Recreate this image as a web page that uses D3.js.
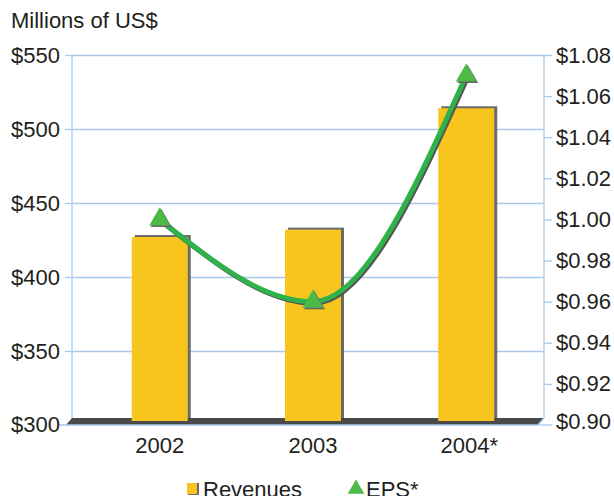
<!DOCTYPE html>
<html>
<head>
<meta charset="utf-8">
<script src="https://cdn.jsdelivr.net/npm/d3@7"></script>
<style>
  body { margin: 0; background: #fff; }
  text { font-family: "Liberation Sans", Arial, sans-serif; fill: #231f20; }
</style>
</head>
<body>
<svg id="chart"></svg>
<script>
var width = 614;
var height = 496;

var years = ["2002", "2003", "2004*"];
var revenues = [427, 432, 514];
var eps = [1.00, 0.96, 1.07];
var leftTicks = [300, 350, 400, 450, 500, 550];
var rightTicks = [0.90, 0.92, 0.94, 0.96, 0.98, 1.00, 1.02, 1.04, 1.06, 1.08];

var plot = { left: 72, right: 544, top: 55, bottom: 425, floor: 418 };
var depth = { dx: 6, dy: 7 };
var gridColor = "#a9c9ea";
var barColor = "#f8c51e";
var shadeColor = "#6b6b6b";
var greenLine = "#2fb24a";
var greenMark = "#4dba48";

var svg = d3.select("#chart")
  .attr("width", width)
  .attr("height", height);

var x = d3.scalePoint()
  .domain(years)
  .range([plot.left + 5, plot.right + 5])
  .padding(0.54);

var yL = d3.scaleLinear()
  .domain([300, 550])
  .range([plot.bottom, plot.top]);

var yR = d3.scaleLinear()
  .domain([0.90, 1.08])
  .range([plot.bottom, plot.top]);

// gridlines
svg.append("g")
  .attr("transform", "translate(" + plot.left + ",0)")
  .call(d3.axisLeft(yL).tickValues(leftTicks.slice(1)).tickSize(-(plot.right - plot.left)).tickFormat(""))
  .call(function(g) { g.select(".domain").remove(); })
  .selectAll("line").attr("stroke", gridColor).attr("stroke-width", 1.3);

// left axis
var gl = svg.append("g")
  .attr("transform", "translate(" + plot.left + ",0)")
  .call(d3.axisLeft(yL).tickValues(leftTicks.slice(1)).tickSize(7).tickPadding(5)
    .tickFormat(function(d) { return "$" + d; }));
gl.select(".domain").remove();
gl.selectAll("line").attr("stroke", gridColor).attr("stroke-width", 1.3);
gl.selectAll("text").style("font-size", "22px").attr("fill", "#231f20");

svg.append("line")
  .attr("x1", plot.left).attr("x2", plot.left)
  .attr("y1", plot.top).attr("y2", plot.floor)
  .attr("stroke", gridColor).attr("stroke-width", 1.3);

// right axis
var gr = svg.append("g")
  .attr("transform", "translate(" + plot.right + ",0)")
  .call(d3.axisRight(yR).tickValues(rightTicks.slice(1)).tickSize(8).tickPadding(4)
    .tickFormat(function(d) { return "$" + d3.format(".2f")(d); }));
gr.select(".domain").remove();
gr.selectAll("line").attr("stroke", gridColor).attr("stroke-width", 1.3);
gr.selectAll("text").style("font-size", "22px").attr("fill", "#231f20");

svg.append("line")
  .attr("x1", plot.right).attr("x2", plot.right)
  .attr("y1", plot.top).attr("y2", plot.floor)
  .attr("stroke", gridColor).attr("stroke-width", 1.3);

// floor
svg.append("path")
  .attr("d", "M" + plot.left + "," + plot.floor +
    "L" + plot.right + "," + plot.floor +
    "L" + (plot.right - depth.dx) + "," + (plot.floor + depth.dy) +
    "L" + (plot.left - depth.dx) + "," + (plot.floor + depth.dy) + "Z")
  .attr("fill", "#4a4a4a");

// front edge and base ticks
svg.append("path")
  .attr("d", "M" + (plot.left - depth.dx - 7) + "," + (plot.bottom) +
    "L" + (plot.right - depth.dx) + "," + plot.bottom +
    "L" + plot.right + "," + plot.floor)
  .attr("fill", "none")
  .attr("stroke", gridColor).attr("stroke-width", 1.3);
svg.append("line")
  .attr("x1", plot.right - depth.dx).attr("x2", plot.right + 8)
  .attr("y1", plot.bottom).attr("y2", plot.bottom)
  .attr("stroke", gridColor).attr("stroke-width", 1.3);

svg.append("text")
  .attr("x", plot.left - 12).attr("y", yL(300))
  .attr("dy", "0.32em")
  .style("font-size", "22px")
  .style("text-anchor", "end")
  .text("$300");
svg.append("text")
  .attr("x", plot.right + 12).attr("y", yR(0.90) - 3)
  .attr("dy", "0.32em")
  .style("font-size", "22px")
  .text("$0.90");

// bars
var barW = 56;
var bars = svg.append("g");
bars.selectAll("rect.shade")
  .data(revenues)
  .enter()
    .append("rect")
      .attr("class", "shade")
      .attr("x", function(d, i) { return x(years[i]) - barW / 2 + 3; })
      .attr("y", function(d) { return yL(d) - 2; })
      .attr("width", barW)
      .attr("height", function(d) { return plot.floor + 2 - yL(d); })
      .attr("fill", shadeColor);
bars.selectAll("rect.bar")
  .data(revenues)
  .enter()
    .append("rect")
      .attr("class", "bar")
      .attr("x", function(d, i) { return x(years[i]) - barW / 2; })
      .attr("y", function(d) { return yL(d); })
      .attr("width", barW)
      .attr("height", function(d) { return plot.floor + 3 - yL(d); })
      .attr("fill", barColor);

// x labels
svg.selectAll("text.year")
  .data(years)
  .enter()
    .append("text")
      .attr("class", "year")
      .attr("x", function(d) { return x(d) + (d.length > 4 ? 3 : 0); })
      .attr("y", 453)
      .style("font-size", "22px")
      .style("text-anchor", "middle")
      .text(function(d) { return d; });

// EPS line
var line = d3.line()
  .x(function(d, i) { return x(years[i]); })
  .y(function(d) { return yR(d); })
  .curve(d3.curveMonotoneX);

svg.append("path")
  .datum(eps)
  .attr("d", line)
  .attr("transform", "translate(1.5,1.5)")
  .attr("fill", "none")
  .attr("stroke", "#555")
  .attr("stroke-width", 5);
svg.append("path")
  .datum(eps)
  .attr("d", line)
  .attr("fill", "none")
  .attr("stroke", greenLine)
  .attr("stroke-width", 5);

var tri = d3.symbol().type(d3.symbolTriangle).size(190);
svg.selectAll("path.triShade")
  .data(eps)
  .enter()
    .append("path")
      .attr("class", "triShade")
      .attr("d", tri)
      .attr("transform", function(d, i) { return "translate(" + (x(years[i]) + 1.5) + "," + (yR(d) + 1.5) + ")"; })
      .attr("fill", "#666");
svg.selectAll("path.tri")
  .data(eps)
  .enter()
    .append("path")
      .attr("class", "tri")
      .attr("d", tri)
      .attr("transform", function(d, i) { return "translate(" + x(years[i]) + "," + yR(d) + ")"; })
      .attr("fill", greenMark);

// title
svg.append("text")
  .attr("x", 11)
  .attr("y", 28)
  .style("font-size", "22px")
  .text("Millions of US$");

// legend
var legend = svg.append("g");
legend.append("rect")
  .attr("x", 188).attr("y", 483)
  .attr("width", 11).attr("height", 12)
  .attr("fill", shadeColor);
legend.append("rect")
  .attr("x", 187).attr("y", 483)
  .attr("width", 10).attr("height", 11)
  .attr("fill", barColor);
legend.append("text")
  .attr("x", 203).attr("y", 497)
  .style("font-size", "22px")
  .text("Revenues");
legend.append("path")
  .attr("d", d3.symbol().type(d3.symbolTriangle).size(120))
  .attr("transform", "translate(356,489)")
  .attr("fill", greenMark);
legend.append("text")
  .attr("x", 366).attr("y", 497)
  .style("font-size", "22px")
  .text("EPS*");
</script>
</body>
</html>
